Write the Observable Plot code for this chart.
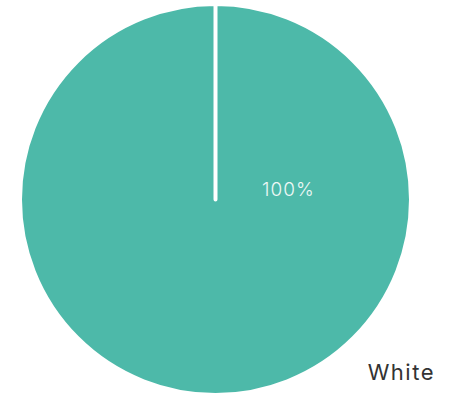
<!DOCTYPE html>
<html>
<head>
<meta charset="utf-8">
<script src="https://cdn.jsdelivr.net/npm/d3@7"></script>
<script src="https://cdn.jsdelivr.net/npm/@observablehq/plot@0.6"></script>
<style>
  html, body { margin: 0; padding: 0; background: #fff; }
  #chart svg { display: block; }
  #chart text.pct { letter-spacing: 1px; }
  #chart text.cat { letter-spacing: 1.5px; }
</style>
</head>
<body>
<div id="chart"></div>
<script>
const categories = ["White"];
const values = [100];
const percentLabels = ["100%"];
const colors = ["#4db9a9"];

const data = categories.map((c, i) => ({category: c, value: values[i], label: percentLabels[i], color: colors[i]}));
const arcs = d3.pie().sort(null).value(d => d.value)(data);

function pieMark(index, scales, values, dims, context) {
  const cx = scales.x(0), cy = scales.y(0);
  const r = Math.abs(scales.x(1) - scales.x(0));
  const g = d3.create("svg:g");
  for (const a of arcs) {
    const p = d3.path();
    const a0 = a.startAngle - Math.PI / 2, a1 = a.endAngle - Math.PI / 2;
    p.moveTo(cx, cy);
    p.lineTo(cx + r * Math.cos(a0), cy + r * Math.sin(a0));
    if (a.endAngle - a.startAngle >= 2 * Math.PI - 1e-9) {
      p.arc(cx, cy, r, a0, a0 + Math.PI, false);
      p.arc(cx, cy, r, a0 + Math.PI, a0 + 2 * Math.PI, false);
    } else {
      p.arc(cx, cy, r, a0, a1, false);
    }
    p.closePath();
    g.append("path")
      .attr("d", p.toString())
      .attr("fill", a.data.color)
      .attr("stroke", "#fff")
      .attr("stroke-width", 4)
      .attr("stroke-linejoin", "round")
      .attr("stroke-linecap", "round");
  }
  return g.node();
}

const chart = Plot.plot({
  width: 450,
  height: 394,
  x: {domain: [-1, 1], range: [20, 411], axis: null},
  y: {domain: [-1, 1], range: [395, 4], axis: null},
  style: {fontFamily: "Inter, 'Open Sans', sans-serif", background: "#fff"},
  marks: [
    pieMark,
    Plot.text(data, {
      x: () => 0.37, y: () => 0.05, text: "label",
      fill: "#eef8f6", fontSize: 19, fontWeight: 300,
      className: "pct"
    }),
    Plot.text(data, {
      x: () => 1.12, y: () => -0.885, text: "category",
      fill: "#333333", fontSize: 22, fontWeight: 400, textAnchor: "end",
      className: "cat"
    })
  ]
});
chart.querySelectorAll("g[aria-label=text]").forEach((g, i) => {
  g.querySelectorAll("text").forEach(t => t.classList.add(i === 0 ? "pct" : "cat"));
});
document.getElementById("chart").appendChild(chart);
</script>
</body>
</html>
